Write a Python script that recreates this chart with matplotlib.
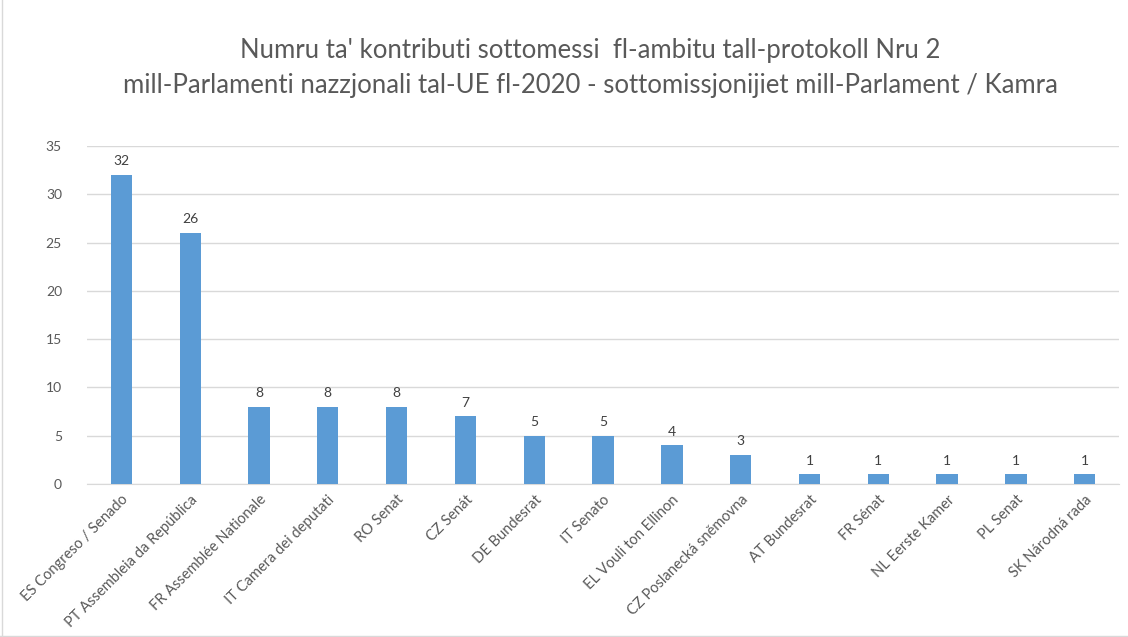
import matplotlib.pyplot as plt
from matplotlib.lines import Line2D

chambers = ["ES Congreso / Senado", "PT Assembleia da República", "FR Assemblée Nationale",
            "IT Camera dei deputati", "RO Senat", "CZ Senát", "DE Bundesrat", "IT Senato",
            "EL Vouli ton Ellinon", "CZ Poslanecká sněmovna", "AT Bundesrat", "FR Sénat",
            "NL Eerste Kamer", "PL Senat", "SK Národná rada"]
counts = [32, 26, 8, 8, 8, 7, 5, 5, 4, 3, 1, 1, 1, 1, 1]
yticks = [0, 5, 10, 15, 20, 25, 30, 35]

title = ("Numru ta' kontributi sottomessi  fl-ambitu tall-protokoll Nru 2\n"
         "mill-Parlamenti nazzjonali tal-UE fl-2020 - sottomissjonijiet mill-Parlament / Kamra")

plt.rcParams['font.family'] = ['Lato', 'DejaVu Sans']
txt = '#595959'

fig = plt.figure(figsize=(11.28, 6.37), dpi=100)
ax = fig.add_axes([0.0771, 0.240, 0.915, 0.531])

x = range(len(chambers))
bars = ax.bar(x, counts, width=0.31, color='#5b9bd5', zorder=3)
for xi, v in zip(x, counts):
    ax.text(xi, v + 0.8, str(v), ha='center', va='bottom', fontsize=10, color='#404040')

ax.set_xlim(-0.5, len(chambers) - 0.5)
ax.set_ylim(0, 35)
ax.set_yticks(yticks)
ax.yaxis.grid(True, color='#d9d9d9', linewidth=1, zorder=0)
ax.tick_params(axis='y', length=0, colors=txt, labelsize=10, pad=18)
ax.tick_params(axis='x', length=0, colors=txt, labelsize=10.5, pad=6)
ax.set_xticks(list(x))
ax.set_xticklabels(chambers, rotation=45, ha='right', rotation_mode='anchor')
for s in ['top', 'right', 'left']:
    ax.spines[s].set_visible(False)
ax.spines['bottom'].set_color('#d9d9d9')

fig.text(0.523, 0.894, title, ha='center', va='center', fontsize=18.5, color=txt, linespacing=1.5)

# chart frame
fig.add_artist(Line2D([0.002, 0.002], [0.0, 1.0], color='#d9d9d9', lw=1, transform=fig.transFigure))
fig.add_artist(Line2D([0.0, 1.0], [0.002, 0.002], color='#d9d9d9', lw=1, transform=fig.transFigure))

fig.savefig('out.png', dpi=100, facecolor='white')
